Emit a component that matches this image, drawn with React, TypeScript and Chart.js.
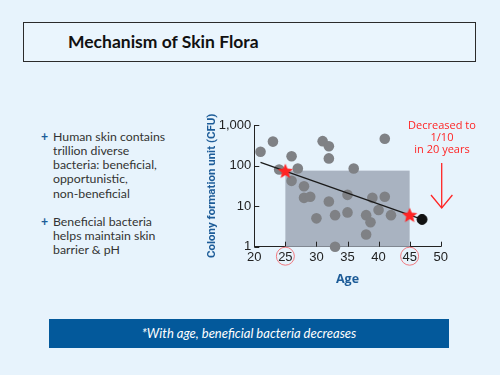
import React, { useEffect, useRef } from "react";
import { Chart, registerables } from "chart.js";
Chart.register(...registerables);

// ---- data ----
const ages = [21, 23, 24, 26, 27, 26, 28, 28, 29, 30, 31, 32, 32, 32, 33, 33, 35, 35, 36, 38, 38, 38.7, 39, 40, 41, 41, 42];
const cfu = [220, 390, 80, 170, 85, 42, 31, 16, 17, 5, 400, 300, 150, 13, 6, 1, 19, 7, 85, 6, 2, 4, 16, 8, 460, 17, 6];
const trendAges = [21, 47];
const trendCfu = [120, 4.7];
const markedAges = [25, 45];
const markedCfu = [73, 6];
const latestAges = [47];
const latestCfu = [4.7];
const shadedAges = [25, 45];
const shadedTopCfu = 75;
const xTicks = [20, 25, 30, 35, 40, 45, 50];
const yTicks = [1, 10, 100, 1000];
const yTickLabels = ["1", "10", "100", "1,000"];
const circledAges = [25, 45];

const bullets = [
  ["Human skin contains", "trillion diverse", "bacteria: beneficial,", "opportunistic,", "non-beneficial"],
  ["Beneficial bacteria", "helps maintain skin", "barrier & pH"],
];
const annotationLines = ["Decreased to", "1/10", "in 20 years"];

const AXIS_BLUE = "#1d5c98";
const RED = "#ff2424";

function makeStar(size: number, color: string) {
  const c = document.createElement("canvas");
  c.width = size;
  c.height = size;
  const ctx = c.getContext("2d")!;
  const cx = size / 2, cy = size / 2 + 0.5;
  const R = size / 2, r = R * 0.45;
  ctx.beginPath();
  for (let i = 0; i < 10; i++) {
    const rad = i % 2 === 0 ? R : r;
    const a = -Math.PI / 2 + (i * Math.PI) / 5;
    const px = cx + rad * Math.cos(a), py = cy + rad * Math.sin(a);
    if (i === 0) ctx.moveTo(px, py); else ctx.lineTo(px, py);
  }
  ctx.closePath();
  ctx.fillStyle = color;
  ctx.fill();
  return c;
}

const shadePlugin = {
  id: "shade",
  beforeDatasetsDraw(chart: any) {
    const { ctx, scales } = chart;
    const x0 = scales.x.getPixelForValue(shadedAges[0]);
    const x1 = scales.x.getPixelForValue(shadedAges[1]);
    const yTop = scales.y.getPixelForValue(shadedTopCfu);
    const yBot = scales.y.getPixelForValue(1);
    ctx.save();
    ctx.fillStyle = "#a9b3c1";
    ctx.fillRect(x0, yTop, x1 - x0, yBot - yTop);
    ctx.restore();
  },
  afterDraw(chart: any) {
    const { ctx, scales, chartArea } = chart;
    ctx.save();
    ctx.strokeStyle = "#222";
    ctx.lineWidth = 1;
    ctx.beginPath();
    for (const v of yTicks) {
      const y = Math.round(scales.y.getPixelForValue(v)) + 0.5;
      ctx.moveTo(chartArea.left, y);
      ctx.lineTo(chartArea.left + 5, y);
    }
    for (const v of xTicks) {
      const x = Math.round(scales.x.getPixelForValue(v)) + 0.5;
      ctx.moveTo(x, chartArea.bottom);
      ctx.lineTo(x, chartArea.bottom - 5);
    }
    ctx.stroke();
    ctx.strokeStyle = "#f07a80";
    for (const v of circledAges) {
      const x = scales.x.getPixelForValue(v);
      const y = chartArea.bottom + 9.5;
      ctx.beginPath();
      ctx.arc(x, y, 9, 0, Math.PI * 2);
      ctx.stroke();
    }
    ctx.restore();
  },
};

function ChartBox() {
  const ref = useRef<HTMLCanvasElement>(null);
  useEffect(() => {
    const star = makeStar(16, RED);
    const chart = new Chart(ref.current!, {
      type: "scatter",
      data: {
        datasets: [
          {
            data: markedAges.map((x, i) => ({ x, y: markedCfu[i] })),
            pointStyle: star as any,
            pointRadius: 8,
            order: 0,
          } as any,
          {
            data: latestAges.map((x, i) => ({ x, y: latestCfu[i] })),
            backgroundColor: "#111",
            borderColor: "#111",
            pointRadius: 5,
            order: 1,
          },
          {
            data: trendAges.map((x, i) => ({ x, y: trendCfu[i] })),
            showLine: true,
            borderColor: "#1a1a1a",
            borderWidth: 1.3,
            pointRadius: 0,
            order: 2,
          },
          {
            data: ages.map((x, i) => ({ x, y: cfu[i] })),
            backgroundColor: "#7f8185",
            borderColor: "#7f8185",
            borderWidth: 0,
            pointRadius: 5.3,
            order: 3,
          },
        ],
      },
      options: {
        animation: false,
        responsive: false,
        devicePixelRatio: 1,
        clip: false as any,
        layout: { padding: { left: 205, top: 125, right: 59.3, bottom: 88.2 } },
        plugins: { legend: { display: false }, tooltip: { enabled: false } },
        scales: {
          x: {
            type: "linear",
            min: 20,
            max: 50,
            afterBuildTicks: (s: any) => { s.ticks = xTicks.map((v) => ({ value: v })); },
            afterFit: (s: any) => { s.height = 40.1; },
            ticks: { color: "#222", font: { size: 13, family: "'Liberation Sans', Arial, sans-serif" }, padding: 3 },
            grid: { color: "rgba(0,0,0,0)", drawTicks: false },
            border: { color: "#222", width: 1 },
            title: {
              display: true,
              text: "Age",
              color: AXIS_BLUE,
              font: { size: 12.5, weight: "bold", family: "'Open Sans', sans-serif" },
              padding: { top: 0, bottom: 0 },
            },
          },
          y: {
            type: "logarithmic",
            min: 1,
            max: 1000,
            afterBuildTicks: (s: any) => { s.ticks = yTicks.map((v) => ({ value: v })); },
            afterFit: (s: any) => { s.width = 49.3; },
            ticks: {
              color: "#222",
              font: { size: 13, family: "'Liberation Sans', Arial, sans-serif" },
              padding: 3,
              callback: (v: any) => yTickLabels[yTicks.indexOf(Number(v))] ?? "",
            },
            grid: { color: "rgba(0,0,0,0)", drawTicks: false },
            border: { color: "#222", width: 1 },
            title: {
              display: true,
              text: "Colony formation unit (CFU)",
              color: AXIS_BLUE,
              font: { size: 11.5, weight: "bold", family: "Roboto, 'Open Sans', sans-serif" },
              padding: { top: 0, bottom: 0 },
            },
          },
        },
      },
      plugins: [shadePlugin],
    });
    return () => chart.destroy();
  }, []);
  return (
    <canvas
      ref={ref}
      width={500}
      height={375}
      style={{ position: "absolute", left: 0, top: 0, width: 500, height: 375 }}
    />
  );
}

export default function App() {
  const font = "Lato, 'Open Sans', sans-serif";
  return (
    <div
      style={{
        position: "fixed",
        left: 0,
        top: 0,
        width: 500,
        height: 375,
        background: "#e7f3fc",
        overflow: "hidden",
        fontFamily: font,
      }}
    >
      <div
        style={{
          position: "absolute",
          left: 23,
          top: 22,
          width: 451,
          height: 38,
          border: "1.5px solid #2b2b2b",
          background: "#eaf5fd",
        }}
      />
      <div
        style={{
          position: "absolute",
          left: 68,
          top: 30,
          fontSize: 17.5,
          fontWeight: 700,
          color: "#111",
          lineHeight: "24px",
          whiteSpace: "nowrap",
        }}
      >
        Mechanism of Skin Flora
      </div>

      {bullets.map((lines, bi) => (
        <div key={bi} style={{ position: "absolute", left: 41, top: bi === 0 ? 129.5 : 214.5, fontSize: 12.3, lineHeight: "14.3px", color: "#333" }}>
          {lines.map((l, i) => (
            <div key={i} style={{ position: "relative", paddingLeft: 12, whiteSpace: "nowrap" }}>
              {i === 0 && (
                <span style={{ position: "absolute", left: 0, top: 0, color: "#1d5c98", fontWeight: 700 }}>+</span>
              )}
              {l}
            </div>
          ))}
        </div>
      ))}

      <ChartBox />

      <div
        style={{
          position: "absolute",
          left: 396,
          top: 119,
          width: 92,
          textAlign: "center",
          color: RED,
          fontSize: 11,
          lineHeight: "12px",
          fontFamily: "'Open Sans', sans-serif",
        }}
      >
        {annotationLines.map((l, i) => (
          <div key={i}>{l}</div>
        ))}
      </div>
      <svg style={{ position: "absolute", left: 0, top: 0 }} width={500} height={375}>
        <line x1={441.7} y1={163} x2={441.7} y2={208} stroke={RED} strokeWidth={1.3} />
        <polyline points="431,195 441.7,208 452.4,195" fill="none" stroke={RED} strokeWidth={1.3} />
      </svg>

      <div
        style={{
          position: "absolute",
          left: 49,
          top: 319,
          width: 400,
          height: 29,
          background: "#03599b",
          color: "#fff",
          fontStyle: "italic",
          fontSize: 13,
          lineHeight: "29px",
          textAlign: "center",
          whiteSpace: "nowrap",
        }}
      >
        *With age, beneficial bacteria decreases
      </div>
    </div>
  );
}
